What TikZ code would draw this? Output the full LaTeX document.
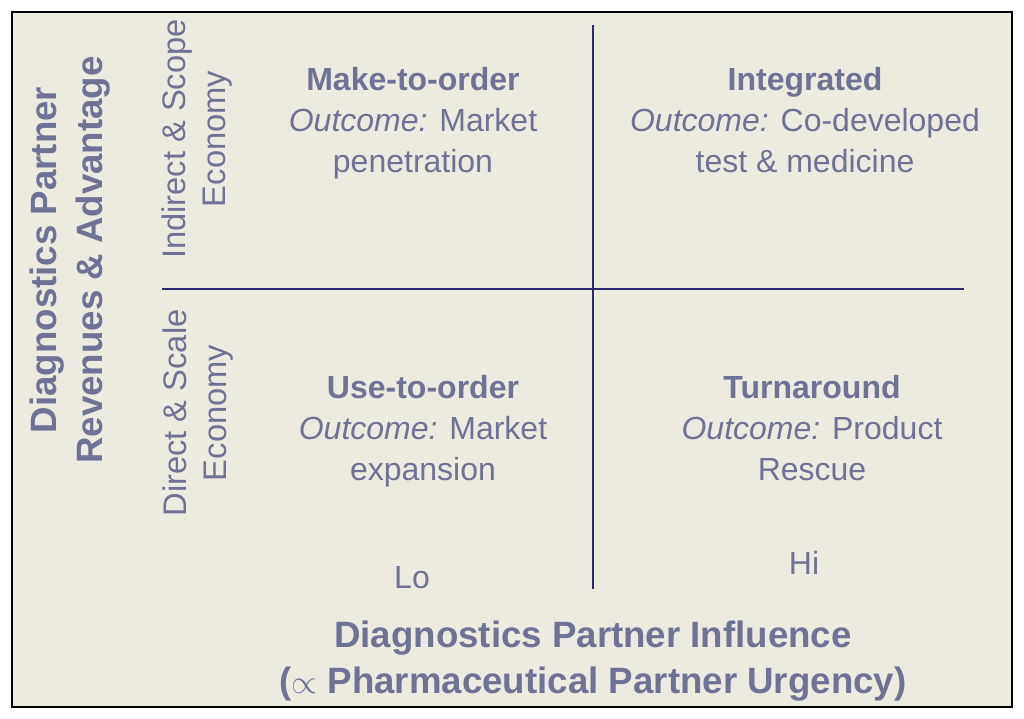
\documentclass[tikz,border=0pt]{standalone}
\usepackage{fontspec}
\setmainfont{Liberation Sans}
\definecolor{labelgray}{HTML}{6E7396}
\definecolor{axisnavy}{HTML}{2A2B6E}
\definecolor{paper}{HTML}{EDEAE0}
\tikzset{
  quad/.style={align=center, text=labelgray, font=\fontsize{24}{30.75}\selectfont},
  axislab/.style={align=center, text=labelgray, font=\fontsize{27.5}{35}\selectfont\bfseries},
  sidelab/.style={align=center, text=labelgray, rotate=90, font=\fontsize{24.5}{30}\selectfont},
  axisline/.style={draw=axisnavy, line width=1.5pt}
}
\begin{document}
\begin{tikzpicture}[x=0.75pt, y=-0.75pt]
    \useasboundingbox (0,0) rectangle (1024,718);
    % Frame
    \draw[fill=paper, line width=1.5pt] (12,12) rectangle (1012,707);

    % Axes (the quadrant cross)
    \coordinate (vtop) at (593,25);
    \coordinate (vbot) at (593,589);
    \coordinate (hleft) at (162,289);
    \coordinate (hright) at (964,289);
    \draw[axisline] (vtop) -- (vbot);
    \draw[axisline] (hleft) -- (hright);

    % Quadrants
    \node[quad] (mto) at (413,123) {\textbf{Make-to-order}\\\textit{Outcome:} Market\\penetration};
    \node[quad] (integ) at (805,120) {\textbf{Integrated}\\\textit{Outcome:} Co-developed\\test \& medicine};
    \node[quad] (uto) at (423,431) {\textbf{Use-to-order}\\\textit{Outcome:} Market\\expansion};
    \node[quad] (turn) at (812,428) {\textbf{Turnaround}\\\textit{Outcome:} Product\\Rescue};

    % Scale ends
    \node[quad] (lo) at (412,578) {Lo};
    \node[quad] (hi) at (804,563) {Hi};

    % Side labels
    \node[sidelab] (scope) at (197,139) {Indirect \& Scope\\Economy};
    \node[sidelab] (scale) at (198,413) {Direct \& Scale\\Economy};

    % Axis titles
    \node[axislab, rotate=90] (ylab) at (70,260) {Diagnostics Partner\\Revenues \& Advantage};
    \node[axislab] (xlab) at (593,661) {Diagnostics Partner Influence\\({\mdseries$\propto$} Pharmaceutical Partner Urgency)};
\end{tikzpicture}
\end{document}
